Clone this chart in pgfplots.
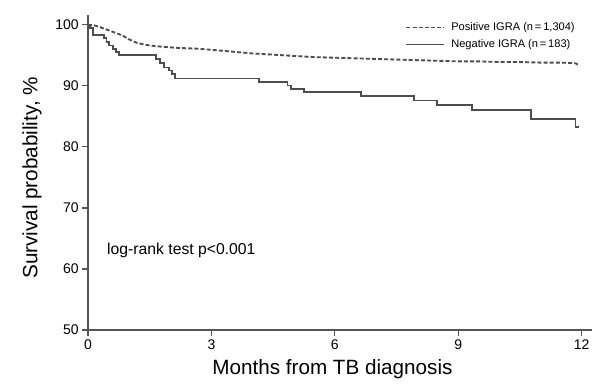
\documentclass[border=0pt]{standalone}
\usepackage{fontspec}
\setmainfont{Liberation Sans}
\usepackage{pgfplots}
\pgfplotsset{compat=1.18}
\definecolor{curve}{HTML}{4D4D4D}
\definecolor{axisgray}{HTML}{555555}
\begin{document}
\begin{tikzpicture}
\begin{axis}[
  scale only axis,
  width=378pt, height=236.25pt,
  xmin=0, xmax=12.25, ymin=50, ymax=101.6,
  axis lines=left,
  axis line style={-, axisgray, line width=0.9pt},
  xtick={0,3,6,9,12}, ytick={50,60,70,80,90,100},
  tick align=outside,
  major tick length=4.5pt,
  tick style={axisgray, line width=0.9pt},
  /pgf/number format/assume math mode=true,
  ticklabel style={font=\fontsize{10.5}{12}\selectfont},
  xticklabel style={yshift=1pt},
  yticklabel style={xshift=1pt},
  xlabel={Months from TB diagnosis},
  ylabel={Survival probability, \%},
  xlabel style={at={(axis description cs:0.485,-0.1397)}, anchor=base, font=\fontsize{15.5}{18}\selectfont},
  every axis y label/.style={at={(axis description cs:-0.111,0.483)}, anchor=center, rotate=90, font=\fontsize{15.5}{18}\selectfont},
  legend style={draw=none, fill=none, at={(axis cs:11.9,100.9)}, anchor=north east,
    inner sep=0pt, font=\fontsize{8.3}{10}\selectfont, row sep=1.5pt, cells={anchor=west}},
  legend image code/.code={\draw[#1, line width=1pt] (0pt,0pt) -- (28pt,0pt); \path (31pt,0pt);},
  clip=false,
]
\coordinate (sw) at (rel axis cs:0,0);
\addplot[curve, line width=1.4pt, dash pattern=on 3pt off 1.6pt] coordinates {
(0,100) (0.15,99.9) (0.3,99.6) (0.5,99.1) (0.7,98.6) (0.85,98.2) (1.0,97.6) (1.2,97.0)
(1.5,96.6) (1.8,96.4) (2.2,96.2) (2.6,96.1) (3.0,95.9) (3.5,95.6) (4.0,95.3) (4.5,95.1)
(5.0,94.9) (5.5,94.7) (6.0,94.6) (6.5,94.5) (7.0,94.4) (7.5,94.3) (8.0,94.2) (8.5,94.1)
(9.0,94.0) (9.5,94.0) (10.0,93.9) (10.5,93.9) (11.0,93.8) (11.5,93.8) (11.85,93.7)
(11.9,93.5) (11.95,93.4)
};
\addlegendentry{Positive IGRA (n\,=\,1,304)}
\addplot[curve, line width=1.4pt, const plot] coordinates {
(0,100) (0.05,99.4) (0.12,98.3) (0.38,97.8) (0.45,97.2) (0.52,96.6) (0.6,96.0) (0.68,95.5)
(0.75,95.1) (1.65,94.4) (1.76,93.7) (1.84,93.0) (1.96,92.5) (2.04,91.9) (2.12,91.2)
(4.15,90.6) (4.85,90.05) (4.93,89.5) (5.25,89.0) (6.63,88.3) (7.92,87.6) (8.49,86.9)
(9.34,86.0) (10.76,84.6) (11.85,83.2) (11.93,83.2)
};
\addlegendentry{Negative IGRA (n\,=\,183)}
\node[anchor=base west, font=\fontsize{11.8}{14}\selectfont, inner sep=0pt] at (axis cs:0.46,62.3) {log-rank test p<0.001};
\end{axis}
\pgfresetboundingbox
\path (sw) ++(-66pt,-45pt) rectangle ++(450pt,292.5pt);
\end{tikzpicture}
\end{document}
